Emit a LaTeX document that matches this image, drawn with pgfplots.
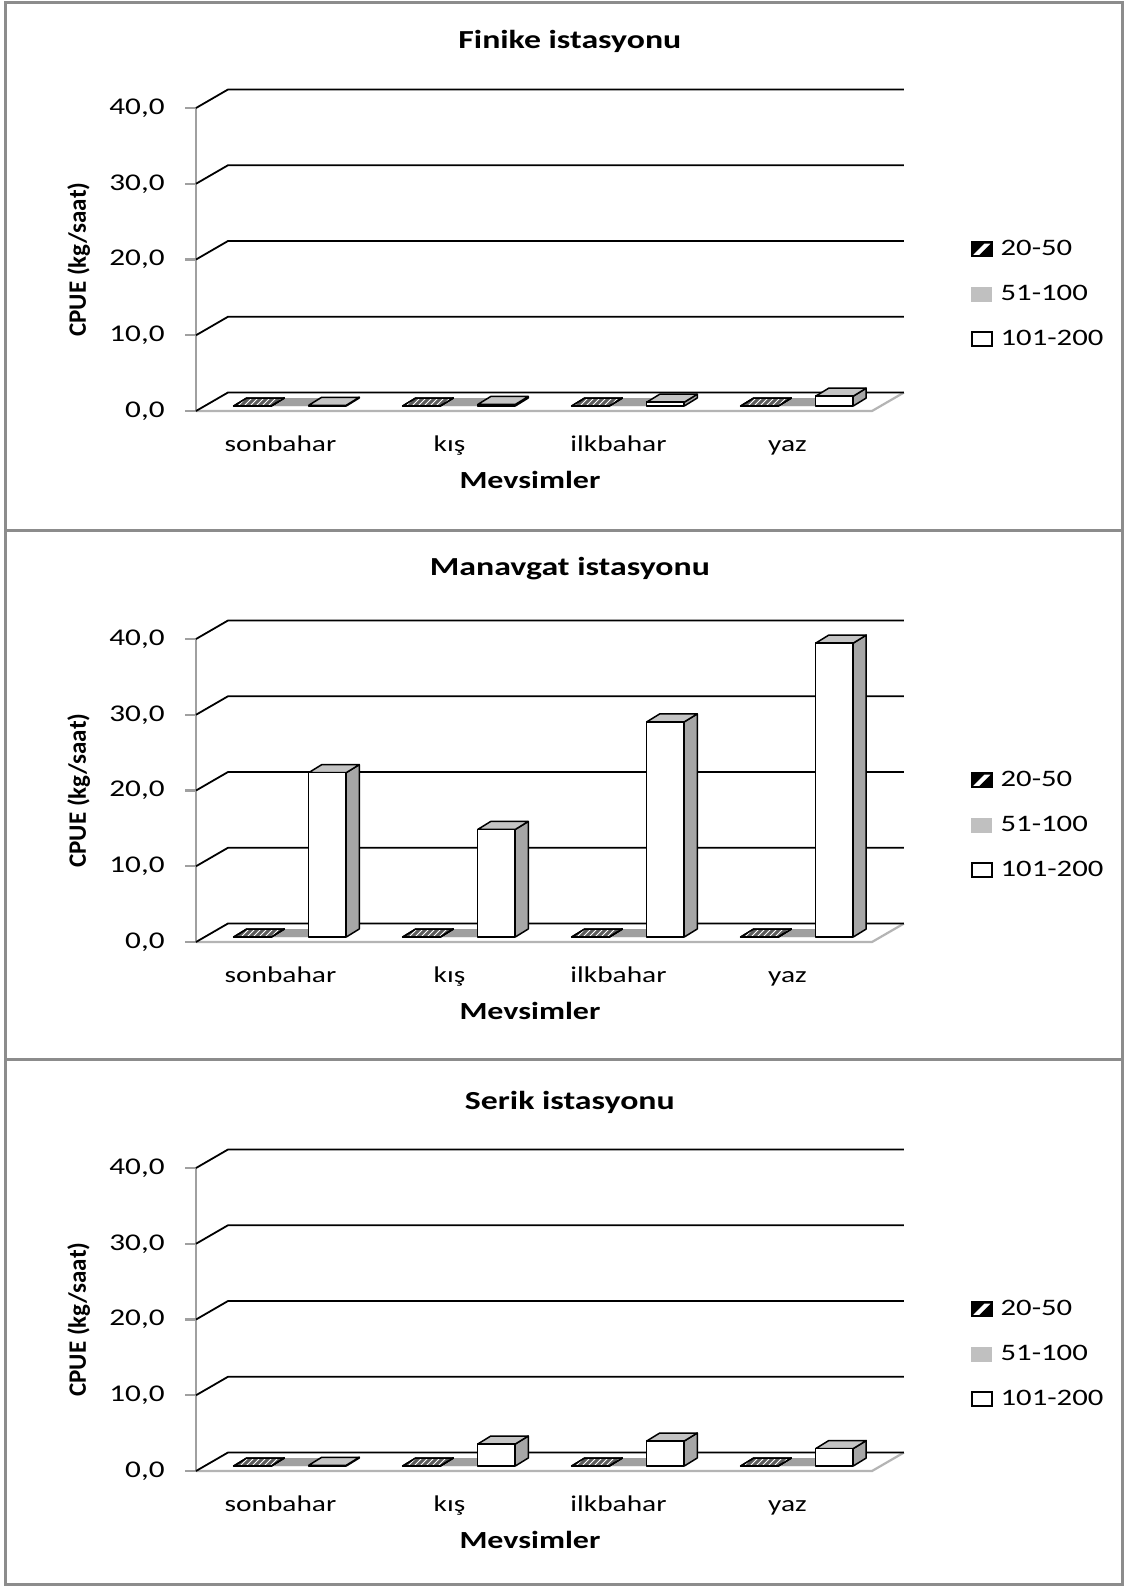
\documentclass[border=0pt]{standalone}
\usepackage{pgfplots}
\pgfplotsset{compat=1.18}
\usepackage{pgfplotstable}
\usetikzlibrary{patterns}
\usepackage{fontspec}
\setmainfont{Carlito}[FakeStretch=1.3]
\newfontfamily\uprightlab{Carlito}

\definecolor{axisgray}{HTML}{A0A0A0}
\definecolor{floorgray}{HTML}{B4B4B4}
\definecolor{framegray}{HTML}{8C8C8C}
\definecolor{sidegray}{HTML}{A6A6A6}
\definecolor{topgray}{HTML}{C4C4C4}
\definecolor{bandgray}{HTML}{A0A0A0}
\definecolor{hatchdark}{HTML}{5A5A5A}
\definecolor{lightfill}{HTML}{C0C0C0}

\newcommand\tickfont{\fontsize{12pt}{14pt}\selectfont}
\newcommand\catfont{\fontsize{11.3pt}{13pt}\selectfont}
\newcommand\legfont{\fontsize{11.8pt}{13pt}\selectfont}
\newcommand\titlefont{\fontsize{13pt}{15pt}\selectfont\bfseries}
\newcommand\xlabfont{\fontsize{12.3pt}{14pt}\selectfont\bfseries}
\newcommand\ylabfont{\uprightlab\fontsize{12.5pt}{14pt}\selectfont\bfseries}

% CPUE (kg/saat) per season; columns: a = 20-50, b = 51-100, c = 101-200
\pgfplotstableread{
x a b c
0 0 0 0.1
1 0 0 0.2
2 0 0 0.5
3 0 0 1.3
}\finike
\pgfplotstableread{
x a b c
0 0 0 21.7
1 0 0 14.2
2 0 0 28.4
3 0 0 38.8
}\manavgat
\pgfplotstableread{
x a b c
0 0 0 0.1
1 0 0 2.9
2 0 0 3.3
3 0 0 2.3
}\serik

\pgfplotsset{
  boxedge/.style={draw=black, line width=0.75pt, line join=round, forget plot},
  hatchfill/.style={fill=hatchdark, postaction={pattern=north east lines, pattern color=white}},
  front20/.style={ybar, bar width=0.222, bar shift=-0.166, hatchfill, boxedge},
  top20/.style={hatchfill, boxedge},
  side20/.style={hatchfill, boxedge},
  front51/.style={ybar, bar width=0.222, bar shift=0.056, fill=lightfill, draw=none, forget plot},
  top51/.style={fill=bandgray, draw=none, forget plot},
  side51/.style={fill=sidegray, draw=none, forget plot},
  front101/.style={ybar, bar width=0.222, bar shift=0.278, fill=white, boxedge},
  top101/.style={fill=topgray, boxedge},
  side101/.style={fill=sidegray, boxedge},
  gridline/.style={black, line width=0.9pt, forget plot},
  floorline/.style={floorgray, line width=1.1pt, forget plot},
  panel/.style={
    scale only axis, width=338pt, height=151.5pt,
    xmin=-0.5, xmax=3.5, ymin=-0.66, ymax=39.34,
    clip=false,
    axis lines=left, axis line style={-},
    x axis line style={draw=none},
    y axis line style={draw=axisgray, line width=1.1pt},
    xtick={0,1,2,3}, xticklabels={sonbahar,kış,ilkbahar,yaz},
    x tick style={draw=none},
    ytick={-0.66,9.34,19.34,29.34,39.34},
    yticklabels={{0,0},{10,0},{20,0},{30,0},{40,0}},
    y tick style={draw=axisgray, line width=1.1pt},
    tick align=outside, major tick length=5.5pt,
    yticklabel style={font=\tickfont, inner sep=0pt, xshift=-10pt},
    xticklabel style={font=\catfont, anchor=base, inner sep=0pt, yshift=-14.85pt},
    xlabel=Mevsimler, ylabel={CPUE (kg/saat)},
    xlabel style={font=\xlabfont, at={(axis description cs:0.494,-0.255)}, anchor=base},
    ylabel style={font=\ylabfont, at={(axis description cs:-0.163,0.5)}, anchor=base},
    legend style={at={(axis description cs:1.146,0.386)}, anchor=west, draw=none, fill=none,
      font=\legfont, inner sep=0pt, row sep=13.25pt, column sep=4pt, nodes={inner sep=0pt}},
    legend cell align=left,
  }
}

% top and side faces of the columns of one series
% #1 table, #2 column, #3 bar shift, #4 top style, #5 side style
\newcommand\faces[5]{%
  \pgfplotsinvokeforeach{0,1,2,3}{%
    \pgfplotstablegetelem{##1}{#2}\of{#1}%
    \pgfmathsetmacro\fv{\pgfplotsretval}%
    \pgfmathsetmacro\fxl{##1+#3-0.111}%
    \pgfmathsetmacro\fxr{##1+#3+0.111}%
    \pgfmathsetmacro\fxlb{\fxl+0.077}%
    \pgfmathsetmacro\fxrb{\fxr+0.077}%
    \pgfmathsetmacro\fvb{\fv+1.056}%
    \edef\doplots{%
      \noexpand\addplot[#5] coordinates {(\fxr,0) (\fxrb,1.056) (\fxrb,\fvb) (\fxr,\fv) (\fxr,0)};%
      \noexpand\addplot[#4] coordinates {(\fxl,\fv) (\fxr,\fv) (\fxrb,\fvb) (\fxlb,\fvb) (\fxl,\fv)};%
    }%
    \doplots
  }%
}

% back wall with its gridlines, and the floor
\newcommand\backwall{%
  \addplot[floorline] coordinates {(-0.5,-0.66) (3.5,-0.66) (3.689,1.78)};
  \addplot[gridline] coordinates {(-0.5,-0.66) (-0.311,1.78) (3.689,1.78)};
  \addplot[gridline] coordinates {(-0.5,9.34) (-0.311,11.78) (3.689,11.78)};
  \addplot[gridline] coordinates {(-0.5,19.34) (-0.311,21.78) (3.689,21.78)};
  \addplot[gridline] coordinates {(-0.5,29.34) (-0.311,31.78) (3.689,31.78)};
  \addplot[gridline] coordinates {(-0.5,39.34) (-0.311,41.78) (3.689,41.78)};
}

% #1 floor position, #2 title, #3 table, #4 title height
\newcommand\panel[4]{%
  \begin{axis}[panel, at={(98pt,#1)}, anchor=south west, title={#2},
      title style={font=\titlefont, at={(axis description cs:0.553,#4)}, anchor=base}]
    \backwall
    \faces{#3}{b}{0.056}{top51}{side51}
    \addplot[front51] table[x=x,y=b]{#3};
    \faces{#3}{a}{-0.166}{top20}{side20}
    \addplot[front20] table[x=x,y=a]{#3};
    \faces{#3}{c}{0.278}{top101}{side101}
    \addplot[front101] table[x=x,y=c]{#3};
    \addlegendimage{legend image code/.code={
      \fill[black] (0pt,-3.5pt) rectangle (10pt,3.5pt);
      \fill[white] (1.2pt,-2.6pt) -- (3.6pt,-2.6pt) -- (8.8pt,2.6pt) -- (6.4pt,2.6pt) -- cycle;
      \draw[black, line width=0.8pt] (0pt,-3.5pt) rectangle (10pt,3.5pt);}}
    \addlegendimage{legend image code/.code={
      \fill[lightfill] (0pt,-3.5pt) rectangle (10pt,3.5pt);}}
    \addlegendimage{legend image code/.code={
      \draw[black, fill=white, line width=0.8pt] (0pt,-3.5pt) rectangle (10pt,3.5pt);}}
    \legend{20-50,51-100,101-200}
  \end{axis}%
}

\begin{document}
\begin{tikzpicture}
  \useasboundingbox (0,0) rectangle (563pt,-793pt);
  \fill[white] (0,0) rectangle (563pt,-793pt);
  \panel{-205.5pt}{Finike istasyonu}{\finike}{1.158}
  \panel{-471pt}{Manavgat istasyonu}{\manavgat}{1.170}
  \panel{-735.5pt}{Serik istasyonu}{\serik}{1.155}
  % frames around the three charts
  \draw[framegray, line width=1.5pt] (2.5pt,-1pt) rectangle (561pt,-792pt);
  \draw[framegray, line width=1.5pt] (2.5pt,-265.3pt) -- (561pt,-265.3pt);
  \draw[framegray, line width=1.5pt] (2.5pt,-529.5pt) -- (561pt,-529.5pt);
\end{tikzpicture}
\end{document}
